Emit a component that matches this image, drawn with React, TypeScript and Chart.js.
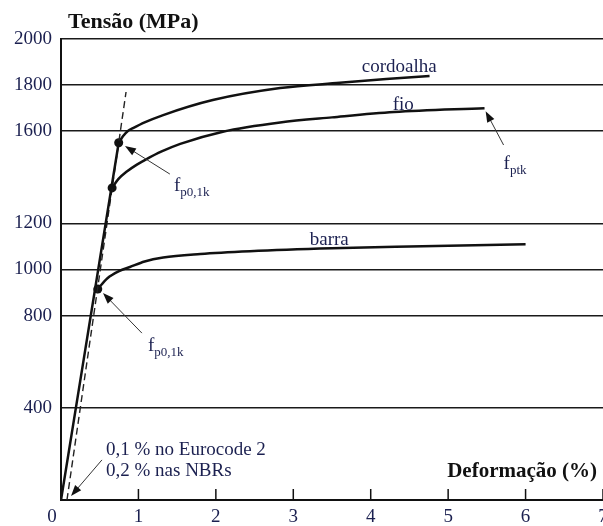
import React, { useEffect, useRef } from 'react';
import { Chart, registerables } from 'chart.js';

Chart.register(...registerables);

// ---- data (strain %, stress MPa) ----
const xTicks = [0, 1, 2, 3, 4, 5, 6, 7];
const yTicks = [400, 800, 1000, 1200, 1600, 1800, 2000];

const elasticX = [0, 0.745];
const elasticY = [0, 1550];

const offsetX = [0.077, 0.84];
const offsetY = [0, 1770];

const cordoalhaX = [0.745, 0.8, 0.86, 0.93, 1.08, 1.32, 1.96, 2.83, 3.6, 4.2, 4.76];
const cordoalhaY = [1550, 1578, 1600, 1613, 1638, 1670, 1735, 1787, 1810, 1826, 1840];

const fioX = [0.66, 0.74, 0.85, 0.98, 1.1, 1.3, 1.54, 2.09, 2.83, 3.5, 4.3, 5.47];
const fioY = [1354, 1392, 1425, 1455, 1478, 1512, 1545, 1598, 1638, 1660, 1683, 1700];

const barraX = [0.475, 0.6, 0.75, 0.89, 1.08, 1.32, 1.8, 2.44, 3.5, 4.5, 6.0];
const barraY = [915, 962, 993, 1011, 1035, 1052, 1067, 1079, 1092, 1100, 1110];

const dotX = [0.745, 0.66, 0.475];
const dotY = [1550, 1354, 915];

const SERIF = "'Liberation Serif', 'DejaVu Serif', serif";
const TEXT = '#1b2050';
const INK = '#111111';

// annotation anchors in data space
const arrows = [
  { from: [1.406, 1414], to: [0.826, 1536] },
  { from: [1.045, 724], to: [0.542, 898] },
  { from: [5.716, 1540], to: [5.484, 1687] },
  { from: [0.529, 174], to: [0.129, 17] },
];
const subLabels = [
  { at: [1.458, 1340], main: 'f', sub: 'p0,1k' },
  { at: [1.123, 646], main: 'f', sub: 'p0,1k' },
  { at: [5.716, 1436], main: 'f', sub: 'ptk' },
];
const plainLabels = [
  { at: [3.884, 1857], text: 'cordoalha' },
  { at: [4.284, 1692], text: 'fio' },
  { at: [3.213, 1106], text: 'barra' },
  { at: [0.581, 195], text: '0,1 % no Eurocode 2' },
  { at: [0.581, 104], text: '0,2 % nas NBRs' },
];

const pts = (xs: number[], ys: number[]) => xs.map((x, i) => ({ x, y: ys[i] }));

const annotate = {
  id: 'annotate',
  afterDraw(chart: any) {
    const { ctx, chartArea } = chart;
    const xs = chart.scales.x;
    const ys = chart.scales.y;
    const px = (v: number) => xs.getPixelForValue(v);
    const py = (v: number) => ys.getPixelForValue(v);
    ctx.save();

    // x tick marks (inside) and x tick labels
    ctx.strokeStyle = INK;
    ctx.lineWidth = 1.5;
    ctx.fillStyle = TEXT;
    ctx.font = `19px ${SERIF}`;
    ctx.textAlign = 'center';
    ctx.textBaseline = 'alphabetic';
    xTicks.forEach((v) => {
      const x = px(v);
      if (v !== 0) {
        ctx.beginPath();
        ctx.moveTo(x, chartArea.bottom);
        ctx.lineTo(x, chartArea.bottom - 11);
        ctx.stroke();
      }
      ctx.fillText(String(v), v === 0 ? x - 9 : x, chartArea.bottom + 22);
    });

    // arrows
    arrows.forEach((a) => {
      const x1 = px(a.from[0]), y1 = py(a.from[1]);
      const x2 = px(a.to[0]), y2 = py(a.to[1]);
      const ang = Math.atan2(y2 - y1, x2 - x1);
      const L = 11, W = 4;
      ctx.strokeStyle = '#333';
      ctx.lineWidth = 1;
      ctx.beginPath();
      ctx.moveTo(x1, y1);
      ctx.lineTo(x2 - Math.cos(ang) * L * 0.8, y2 - Math.sin(ang) * L * 0.8);
      ctx.stroke();
      ctx.fillStyle = INK;
      ctx.beginPath();
      ctx.moveTo(x2, y2);
      ctx.lineTo(x2 - Math.cos(ang) * L - Math.sin(ang) * W, y2 - Math.sin(ang) * L + Math.cos(ang) * W);
      ctx.lineTo(x2 - Math.cos(ang) * L + Math.sin(ang) * W, y2 - Math.sin(ang) * L - Math.cos(ang) * W);
      ctx.closePath();
      ctx.fill();
    });

    // labels
    ctx.fillStyle = TEXT;
    ctx.textBaseline = 'alphabetic';
    ctx.textAlign = 'left';
    plainLabels.forEach((l) => {
      ctx.font = `19px ${SERIF}`;
      ctx.fillText(l.text, px(l.at[0]), py(l.at[1]));
    });
    subLabels.forEach((l) => {
      const x = px(l.at[0]), y = py(l.at[1]);
      ctx.font = `19px ${SERIF}`;
      ctx.fillText(l.main, x, y);
      const w = ctx.measureText(l.main).width;
      ctx.font = `13px ${SERIF}`;
      ctx.fillText(l.sub, x + w, y + 5);
    });

    // axis titles
    ctx.fillStyle = INK;
    ctx.font = `bold 22px ${SERIF}`;
    ctx.textAlign = 'left';
    ctx.fillText('Tensão (MPa)', chartArea.left + 7, chartArea.top - 11);
    ctx.font = `bold 21px ${SERIF}`;
    ctx.textAlign = 'right';
    ctx.fillText('Deformação (%)', chartArea.right - 6, chartArea.bottom - 23);
    ctx.restore();
  },
};

export default function App() {
  const ref = useRef<HTMLCanvasElement>(null);
  useEffect(() => {
    if (!ref.current) return;
    const lineBase = {
      borderColor: INK,
      borderWidth: 2.5,
      pointRadius: 0,
      pointHoverRadius: 0,
      fill: false,
      cubicInterpolationMode: 'monotone' as const,
    };
    const chart = new Chart(ref.current, {
      type: 'line',
      data: {
        datasets: [
          { ...lineBase, label: 'elastic', data: pts(elasticX, elasticY) },
          { ...lineBase, label: 'offset', data: pts(offsetX, offsetY), borderWidth: 1.4, borderDash: [7, 4], borderColor: '#222' },
          { ...lineBase, label: 'cordoalha', data: pts(cordoalhaX, cordoalhaY) },
          { ...lineBase, label: 'fio', data: pts(fioX, fioY) },
          { ...lineBase, label: 'barra', data: pts(barraX, barraY) },
          {
            label: 'fp',
            data: pts(dotX, dotY),
            showLine: false,
            pointRadius: 4.5,
            pointHoverRadius: 4.5,
            pointBackgroundColor: INK,
            pointBorderWidth: 0,
            borderColor: INK,
          },
        ],
      },
      options: {
        responsive: false,
        animation: false,
        layout: { autoPadding: false, padding: { top: 39, left: 0, right: 0, bottom: 0 } },
        plugins: { legend: { display: false }, tooltip: { enabled: false } },
        scales: {
          x: {
            type: 'linear',
            min: 0,
            max: 7,
            afterBuildTicks: (s: any) => { s.ticks = xTicks.map((v) => ({ value: v })); },
            afterFit: (s: any) => { s.height = 26; s.paddingLeft = 0; s.paddingRight = 0; },
            grid: { display: false, drawTicks: false },
            border: { display: true, color: INK, width: 2 },
            ticks: { display: false, padding: 0 },
          },
          y: {
            type: 'linear',
            min: 0,
            max: 2000,
            afterBuildTicks: (s: any) => { s.ticks = yTicks.map((v) => ({ value: v })); },
            afterFit: (s: any) => { s.width = 61; s.paddingTop = 0; s.paddingBottom = 0; },
            grid: { color: '#1a1a1a', lineWidth: 1.5, drawTicks: false },
            border: { display: true, color: INK, width: 2 },
            ticks: {
              color: TEXT,
              font: { family: SERIF, size: 19 },
              padding: 9,
              autoSkip: false,
              callback: (v: any) => String(v),
            },
          },
        },
      },
      plugins: [annotate],
    });
    return () => chart.destroy();
  }, []);
  return (
    <div style={{ position: 'absolute', left: 0, top: 0, width: 603, height: 526, background: '#fff' }}>
      <canvas ref={ref} width={603} height={526} style={{ width: 603, height: 526, display: 'block' }} />
    </div>
  );
}
